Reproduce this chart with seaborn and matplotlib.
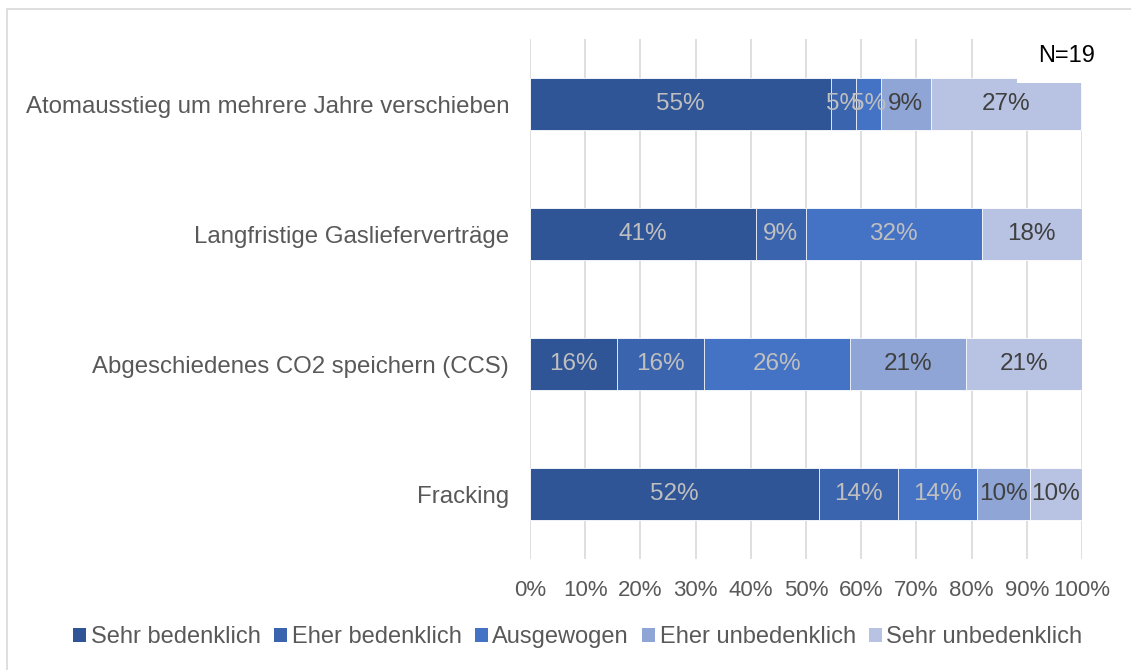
import numpy as np
import matplotlib
matplotlib.use("Agg")
import matplotlib.pyplot as plt
from matplotlib.patches import Patch, Rectangle
import seaborn as sns

# Data (percent of respondents per answer)
categories = [
    "Atomausstieg um mehrere Jahre verschieben",
    "Langfristige Gaslieferverträge",
    "Abgeschiedenes CO2 speichern (CCS)",
    "Fracking",
]
responses = ["Sehr bedenklich", "Eher bedenklich", "Ausgewogen",
             "Eher unbedenklich", "Sehr unbedenklich"]
sehr_bedenklich = [54.5, 40.9, 15.8, 52.4]
eher_bedenklich = [4.5, 9.1, 15.8, 14.3]
ausgewogen = [4.5, 31.8, 26.3, 14.3]
eher_unbedenklich = [9.1, 0.0, 21.1, 9.5]
sehr_unbedenklich = [27.3, 18.2, 21.1, 9.5]
x_ticks = [0, 10, 20, 30, 40, 50, 60, 70, 80, 90, 100]

colors = ["#2F5597", "#3A64AD", "#4472C4", "#8FA5D5", "#B8C3E3"]
label_colors = ["#BFBFBF", "#BFBFBF", "#BFBFBF", "#404040", "#404040"]

sns.set_theme(style="white")
plt.rcParams['font.family'] = ['Liberation Sans', 'DejaVu Sans']

series = np.array([sehr_bedenklich, eher_bedenklich, ausgewogen,
                   eher_unbedenklich, sehr_unbedenklich])
cums = np.cumsum(series, axis=0)

fig = plt.figure(figsize=(11.31, 6.70), dpi=100)
ax = fig.add_axes([530 / 1131, 1 - 559 / 670, 552 / 1131, 520 / 670])

# stacked bars: draw cumulative totals from largest to smallest
for i in range(len(responses) - 1, -1, -1):
    sns.barplot(x=cums[i], y=categories, orient="h", color=colors[i],
                width=0.4, saturation=1, edgecolor="white", linewidth=0.6,
                ax=ax)

# segment labels
for i in range(len(responses)):
    for j in range(len(categories)):
        v = series[i, j]
        if v <= 0:
            continue
        ax.text(cums[i, j] - v / 2, j, f"{int(v + 0.5)}%", ha="center",
                va="center", fontsize=17.5, color=label_colors[i])

ax.set_xlim(0, 100)
ax.set_ylim(3.5, -0.5)
ax.set_xticks(x_ticks)
ax.set_xticklabels([f"{t}%" for t in x_ticks])
ax.grid(axis="x", color="#D9D9D9", linewidth=1.2)
ax.grid(axis="y", visible=False)
ax.set_axisbelow(True)
for s in ax.spines.values():
    s.set_visible(False)
ax.tick_params(axis="x", length=0, pad=15, labelsize=16, labelcolor="#595959")
ax.tick_params(axis="y", length=0, pad=15, labelsize=17.3, labelcolor="#595959")
ax.set_xlabel("")
ax.set_ylabel("")

# legend
handles = [Patch(facecolor=c, edgecolor="none") for c in colors]
fig.legend(handles, responses, loc="center", bbox_to_anchor=(0.511, 1 - 637 / 670),
           ncol=5, frameon=False, fontsize=17, handlelength=0.55, handleheight=0.55,
           handletextpad=0.2, columnspacing=0.55, labelcolor="#595959")

# N=19 box
fig.patches.append(Rectangle((1017 / 1131, 1 - 83 / 670), 100 / 1131, 60 / 670,
                             transform=fig.transFigure, facecolor="white",
                             edgecolor="none", zorder=5))
fig.text(1038 / 1131, 1 - 56 / 670, "N=19", fontsize=17, color="black",
         ha="left", va="center", zorder=6)

# outer border
fig.patches.append(Rectangle((7 / 1131, -0.05), 1.2, 1 - 9 / 670 + 0.05,
                             transform=fig.transFigure, facecolor="none",
                             edgecolor="#D9D9D9", linewidth=1.2, zorder=0))

fig.savefig("out.png", dpi=100)
